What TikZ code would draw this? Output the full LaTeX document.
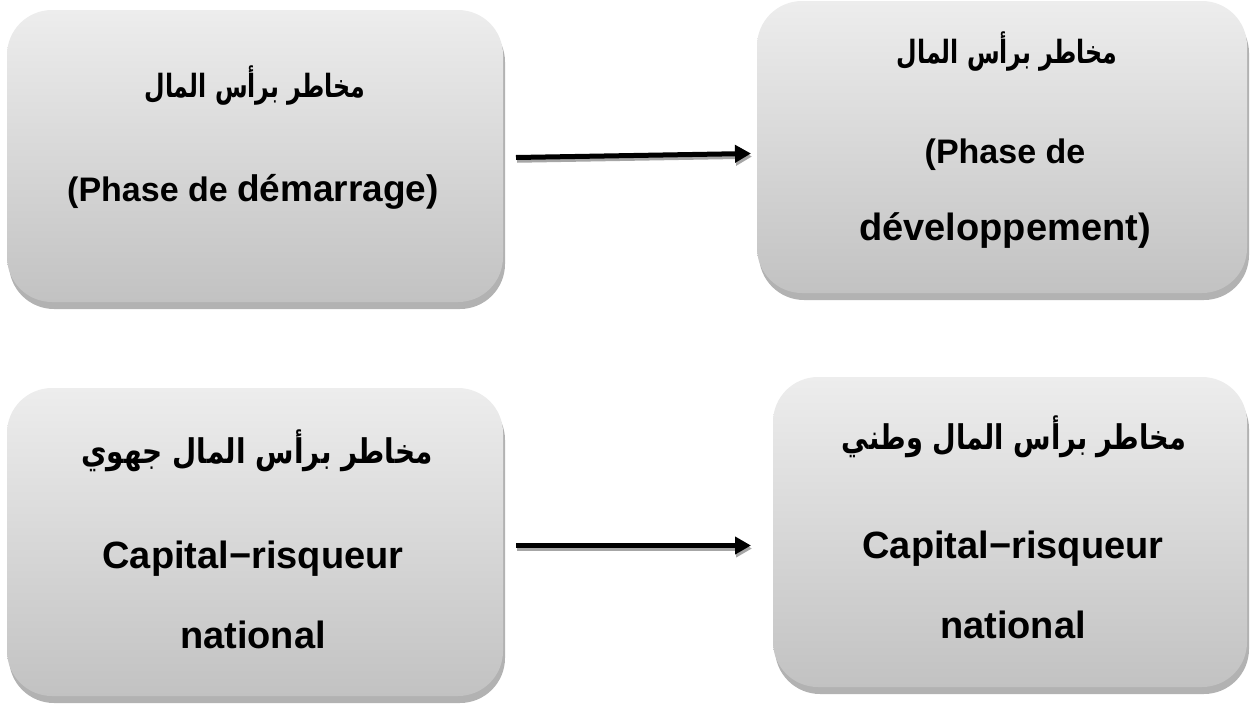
\documentclass[tikz,border=0pt]{standalone}
\usepackage{fontspec}
\setmainfont{Liberation Sans}
\newfontfamily\arabicfont[Script=Arabic]{DejaVu Sans}
\TeXXeTstate=1
\usetikzlibrary{arrows.meta,shadows}

\definecolor{boxtop}{HTML}{EDEDED}
\definecolor{boxbottom}{HTML}{C2C2C2}
\definecolor{boxshadow}{HTML}{B2B2B2}
\definecolor{arrowshadow}{HTML}{A6A6A6}

% Arabic line: size, horizontal squeeze, text
\newcommand{\ar}[3]{\scalebox{#2}[1]{\arabicfont\bfseries\fontsize{#1}{#1}\selectfont #3}}
\newcommand{\lat}[2]{{\bfseries\fontsize{#1}{#1}\selectfont #2}}

\tikzset{
  stagebox/.style={rounded corners=45pt, inner sep=0pt, draw=none,
    top color=boxtop, bottom color=boxbottom,
    drop shadow={shadow xshift=2pt, shadow yshift=-7pt, fill=boxshadow, opacity=1}},
  line/.style={anchor=base, inner sep=0pt},
  flow/.style={line width=5pt, -{Triangle[length=16pt,width=17pt]}},
  flowshadow/.style={line width=4.5pt, draw=arrowshadow,
    -{Triangle[length=16pt,width=17pt]}, transform canvas={xshift=1pt,yshift=-3pt}}
}

\begin{document}
\begin{tikzpicture}[x=1pt,y=-1pt]
  \useasboundingbox (0,0) rectangle (1252,704);

  % the four boxes
  \node[stagebox, minimum width=496pt, minimum height=292pt] (b1) at (255,156) {};
  \node[stagebox, minimum width=490pt, minimum height=292pt] (b2) at (1002,147) {};
  \node[stagebox, minimum width=496pt, minimum height=308pt] (b3) at (255,542) {};
  \node[stagebox, minimum width=474pt, minimum height=310pt] (b4) at (1010,532) {};

  % texts of the start phase box
  \node[line] (b1a) at (255,97) {\ar{32}{0.74}{\beginR مخاطر برأس المال\endR}};
  \node[line] (b1b) at (253,201) {\lat{34}{(Phase de }\lat{37}{démarrage)}};

  % texts of the development phase box
  \node[line] (b2a) at (1007,63) {\ar{32}{0.74}{\beginR مخاطر برأس المال\endR}};
  \node[line] (b2b) at (1005,163) {\lat{34}{(Phase de}};
  \node[line] (b2c) at (1005,240) {\lat{38}{développement)}};

  % texts of the regional box
  \node[line] (b3a) at (257,463) {\ar{34}{0.82}{\beginR مخاطر برأس المال جهوي\endR}};
  \node[line] (b3b) at (253,568) {\lat{38}{Capital−risqueur}};
  \node[line] (b3c) at (253,648) {\lat{38}{national}};

  % texts of the national box
  \node[line] (b4a) at (1014,449) {\ar{34}{0.80}{\beginR مخاطر برأس المال وطني\endR}};
  \node[line] (b4b) at (1013,558) {\lat{38}{Capital−risqueur}};
  \node[line] (b4c) at (1013,638) {\lat{38}{national}};

  % arrow end points
  \coordinate (a1s) at (516,157.5);
  \coordinate (a1e) at (751,153.5);
  \coordinate (a2s) at (516,545.5);
  \coordinate (a2e) at (751,545.5);

  \draw[flowshadow] (a1s) -- (a1e);
  \draw[flow] (a1s) -- (a1e);
  \draw[flowshadow] (a2s) -- (a2e);
  \draw[flow] (a2s) -- (a2e);
\end{tikzpicture}
\end{document}
